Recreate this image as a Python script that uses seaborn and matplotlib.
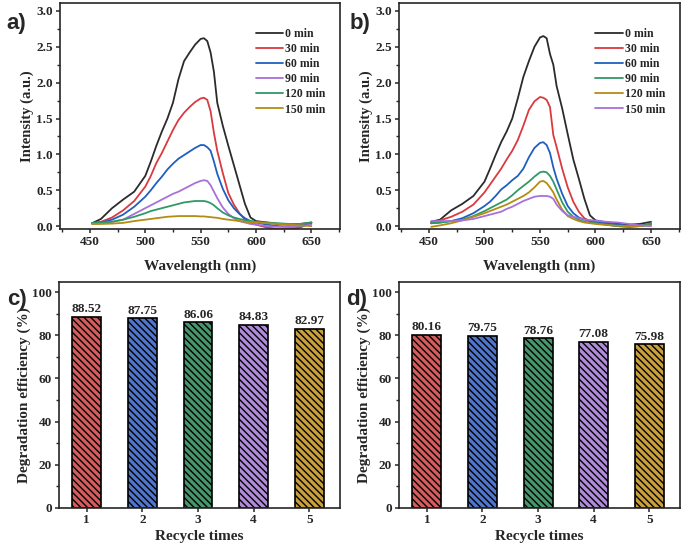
import matplotlib
matplotlib.use('Agg')
import matplotlib.pyplot as plt
from matplotlib.ticker import AutoMinorLocator, MultipleLocator
import seaborn as sns

sns.set_style('ticks')
plt.rcParams['font.family'] = ['Liberation Serif', 'DejaVu Serif']
plt.rcParams['font.weight'] = 'bold'
plt.rcParams['axes.labelweight'] = 'bold'
plt.rcParams['axes.linewidth'] = 1.2
plt.rcParams['hatch.linewidth'] = 1.0

# wavelength grid (nm) shared by all spectra
wavelength = [452, 460, 470, 480, 490, 500, 505, 510, 515, 520, 525, 530, 535, 540, 545,
              550, 553, 556, 559, 562, 565, 570, 575, 580, 585, 590, 595, 600, 610, 620,
              630, 640, 650]

time_labels_a = ['0 min', '30 min', '60 min', '90 min', '120 min', '150 min']
time_labels_b = ['0 min', '30 min', '60 min', '90 min', '120 min', '150 min']

# panel a) spectra
a_0 = [0.04, 0.10, 0.25, 0.37, 0.48, 0.70, 0.90, 1.12, 1.32, 1.50, 1.72, 2.05, 2.30, 2.42, 2.53,
       2.61, 2.62, 2.58, 2.42, 2.15, 1.72, 1.40, 1.12, 0.85, 0.58, 0.31, 0.12, 0.07, 0.05, 0.03,
       0.02, 0.03, 0.05]
a_30 = [0.04, 0.06, 0.12, 0.22, 0.35, 0.55, 0.70, 0.88, 1.02, 1.18, 1.34, 1.48, 1.58, 1.66, 1.73,
        1.78, 1.79, 1.76, 1.60, 1.30, 1.05, 0.74, 0.46, 0.30, 0.18, 0.09, 0.05, 0.02, -0.02, -0.04,
        -0.04, -0.02, 0.05]
a_60 = [0.04, 0.05, 0.09, 0.16, 0.27, 0.41, 0.50, 0.60, 0.69, 0.79, 0.87, 0.94, 0.99, 1.04, 1.09,
        1.13, 1.13, 1.10, 1.05, 0.90, 0.73, 0.52, 0.36, 0.25, 0.17, 0.11, 0.07, 0.05, 0.02, 0.00,
        -0.01, 0.00, 0.04]
a_90 = [0.03, 0.04, 0.06, 0.09, 0.17, 0.25, 0.29, 0.33, 0.37, 0.41, 0.45, 0.48, 0.52, 0.56, 0.60,
        0.63, 0.64, 0.63, 0.57, 0.48, 0.39, 0.26, 0.17, 0.11, 0.07, 0.05, 0.03, 0.02, 0.00, -0.01,
        -0.01, 0.00, 0.02]
a_120 = [0.045, 0.05, 0.06, 0.09, 0.13, 0.18, 0.21, 0.23, 0.25, 0.27, 0.29, 0.31, 0.33, 0.34, 0.35,
         0.35, 0.35, 0.34, 0.32, 0.29, 0.25, 0.19, 0.15, 0.12, 0.10, 0.08, 0.07, 0.06, 0.05, 0.04,
         0.03, 0.03, 0.05]
a_150 = [0.03, 0.03, 0.035, 0.045, 0.07, 0.09, 0.10, 0.11, 0.12, 0.13, 0.135, 0.14, 0.14, 0.14, 0.14,
         0.135, 0.135, 0.13, 0.125, 0.12, 0.115, 0.10, 0.09, 0.08, 0.07, 0.06, 0.055, 0.05, 0.04, 0.03,
         0.02, 0.01, 0.00]

# panel b) spectra
b_0 = [0.06, 0.09, 0.22, 0.31, 0.42, 0.62, 0.80, 0.99, 1.17, 1.32, 1.50, 1.78, 2.08, 2.30, 2.50,
       2.63, 2.65, 2.62, 2.40, 2.25, 1.95, 1.64, 1.28, 0.93, 0.66, 0.38, 0.15, 0.08, 0.05, 0.04,
       0.02, 0.03, 0.06]
b_30 = [0.04, 0.08, 0.13, 0.20, 0.30, 0.47, 0.58, 0.69, 0.80, 0.93, 1.05, 1.20, 1.40, 1.62, 1.74,
        1.80, 1.79, 1.76, 1.66, 1.27, 1.10, 0.80, 0.54, 0.34, 0.20, 0.11, 0.07, 0.05, 0.02, 0.00,
        -0.01, 0.00, 0.03]
b_60 = [0.04, 0.05, 0.07, 0.11, 0.18, 0.28, 0.34, 0.42, 0.51, 0.57, 0.64, 0.70, 0.80, 0.96, 1.09,
        1.16, 1.17, 1.13, 1.02, 0.82, 0.66, 0.45, 0.28, 0.18, 0.12, 0.09, 0.07, 0.06, 0.04, 0.02,
        0.00, 0.00, 0.03]
b_90 = [0.04, 0.05, 0.07, 0.09, 0.14, 0.21, 0.25, 0.29, 0.33, 0.37, 0.43, 0.50, 0.56, 0.62, 0.69,
        0.75, 0.76, 0.75, 0.70, 0.62, 0.51, 0.33, 0.20, 0.13, 0.09, 0.06, 0.05, 0.04, 0.02, 0.00,
        -0.01, 0.00, 0.04]
b_120 = [-0.01, 0.01, 0.04, 0.08, 0.13, 0.18, 0.21, 0.24, 0.27, 0.30, 0.34, 0.38, 0.42, 0.47, 0.54,
         0.62, 0.63, 0.60, 0.54, 0.47, 0.37, 0.23, 0.14, 0.10, 0.07, 0.05, 0.04, 0.03, 0.015, 0.005,
         0.00, 0.00, 0.01]
b_150 = [0.07, 0.07, 0.07, 0.08, 0.10, 0.14, 0.16, 0.18, 0.20, 0.24, 0.27, 0.31, 0.35, 0.38, 0.41,
         0.42, 0.42, 0.42, 0.41, 0.38, 0.30, 0.21, 0.15, 0.13, 0.11, 0.09, 0.085, 0.075, 0.06, 0.05,
         0.03, 0.01, 0.00]

# recycling bars
cycles = ['1', '2', '3', '4', '5']
eff_c = [88.52, 87.75, 86.06, 84.83, 82.97]
eff_d = [80.16, 79.75, 78.76, 77.08, 75.98]

line_colors_a = ['#2b2b2b', '#d93a3f', '#1f5fbf', '#a870da', '#2f9a66', '#b58c12']
line_colors_b = ['#2b2b2b', '#d93a3f', '#1f5fbf', '#2f9a66', '#b58c12', '#a870da']
bar_colors = ['#e84848', '#3a6ee0', '#3aa36a', '#b07ee6', '#e0aa25']

fig = plt.figure(figsize=(6.85, 5.47), dpi=100)
ax_a = fig.add_axes([0.0876, 0.5814, 0.409, 0.413])
ax_b = fig.add_axes([0.5825, 0.5814, 0.410, 0.413])
ax_c = fig.add_axes([0.0861, 0.0713, 0.410, 0.413])
ax_d = fig.add_axes([0.5825, 0.0713, 0.410, 0.413])


def spectra(ax, series, labels, colors):
    for vals, lab, col in zip(series, labels, colors):
        sns.lineplot(x=wavelength, y=vals, color=col, label=lab, linewidth=1.3, ax=ax)
    ax.set_xlim(423, 676)
    ax.set_ylim(-0.04, 3.11)
    ax.xaxis.set_major_locator(MultipleLocator(50))
    ax.yaxis.set_major_locator(MultipleLocator(0.5))
    ax.xaxis.set_minor_locator(AutoMinorLocator(2))
    ax.yaxis.set_minor_locator(AutoMinorLocator(2))
    ax.yaxis.set_major_formatter(plt.FormatStrFormatter('%.1f'))
    ax.set_xlabel('Wavelength (nm)', fontsize=11, fontweight='bold', labelpad=8)
    ax.set_ylabel('Intensity (a.u.)', fontsize=10.5, fontweight='bold', labelpad=2)
    ax.legend(frameon=False, loc='upper right', bbox_to_anchor=(0.965, 0.912), borderaxespad=0,
              handlelength=2.3, handletextpad=0.2, labelspacing=0.27,
              prop={'weight': 'bold', 'size': 8.5})


def recycle(ax, values):
    sns.barplot(x=cycles, y=values, hue=cycles, palette=bar_colors, legend=False, width=0.52,
                edgecolor='black', linewidth=1.2, ax=ax)
    for p in ax.patches:
        p.set_hatch('\\\\\\\\\\')
    for cont in ax.containers:
        ax.bar_label(cont, fmt='%.2f', padding=1, fontsize=9.5, fontweight='bold')
    ax.set_xlim(-0.5, 4.55)
    ax.set_ylim(0, 104.6)
    ax.yaxis.set_major_locator(MultipleLocator(20))
    ax.yaxis.set_minor_locator(AutoMinorLocator(2))
    ax.set_xlabel('Recycle times', fontsize=11, fontweight='bold', labelpad=3)
    ax.set_ylabel('Degradation efficiency (%)', fontsize=11, fontweight='bold', labelpad=1)


spectra(ax_a, [a_0, a_30, a_60, a_90, a_120, a_150], time_labels_a, line_colors_a)
spectra(ax_b, [b_0, b_30, b_60, b_90, b_120, b_150], time_labels_b, line_colors_b)
recycle(ax_c, eff_c)
recycle(ax_d, eff_d)

for ax in [ax_a, ax_b, ax_c, ax_d]:
    ax.tick_params(axis='both', which='major', direction='out', length=3, width=1.1, pad=2,
                   labelsize=9.5, top=False, right=False)
    ax.tick_params(axis='both', which='minor', direction='out', length=2, width=1.0)
    for lab in ax.get_xticklabels() + ax.get_yticklabels():
        lab.set_fontweight('bold')
    for s in ax.spines.values():
        s.set_visible(True)
        s.set_linewidth(1.2)
for ax in [ax_c, ax_d]:
    ax.tick_params(axis='x', which='minor', bottom=False)
    ax.tick_params(axis='x', which='major', pad=1)

panel_font = dict(fontsize=16, fontweight='bold', family=['Liberation Sans', 'DejaVu Sans'])
fig.text(0.010, 0.947, 'a)', **panel_font)
fig.text(0.510, 0.947, 'b)', **panel_font)
fig.text(0.010, 0.442, 'c)', **panel_font)
fig.text(0.505, 0.442, 'd)', **panel_font)

fig.savefig('out.png', dpi=100)
